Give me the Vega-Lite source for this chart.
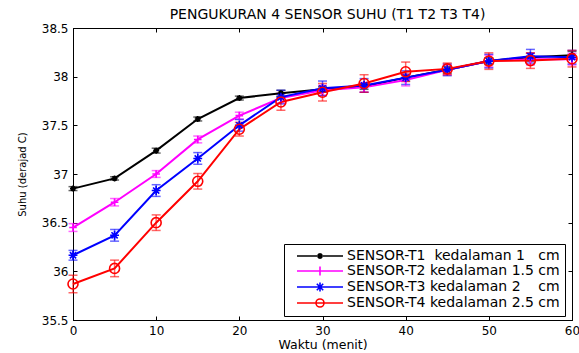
{
  "$schema": "https://vega.github.io/schema/vega-lite/v6.json",
  "width": 499,
  "height": 292,
  "autosize": "none",
  "padding": {"left": 73, "top": 28, "right": 7, "bottom": 33},
  "background": "white",
  "config": {
    "font": "DejaVu Sans",
    "view": {"stroke": "black", "strokeWidth": 1},
    "axis": {
      "grid": false,
      "domainColor": "black",
      "domainWidth": 1,
      "tickColor": "black",
      "tickSize": -4,
      "labelColor": "black",
      "labelFont": "DejaVu Sans",
      "labelFontSize": 12,
      "titleFont": "DejaVu Sans",
      "titleFontWeight": "normal",
      "titleColor": "black"
    }
  },
  "title": {
    "text": "PENGUKURAN 4 SENSOR SUHU (T1 T2 T3 T4)",
    "font": "DejaVu Sans",
    "fontSize": 14,
    "fontWeight": "normal",
    "color": "black",
    "offset": 0,
    "dx": 5
  },
  "data": {
    "values": [
      {"t": 0, "s": "T1", "v": 36.85, "e": 0.02},
      {"t": 5, "s": "T1", "v": 36.955, "e": 0.017},
      {"t": 10, "s": "T1", "v": 37.24, "e": 0.025},
      {"t": 15, "s": "T1", "v": 37.565, "e": 0.02},
      {"t": 20, "s": "T1", "v": 37.78, "e": 0.02},
      {"t": 25, "s": "T1", "v": 37.83, "e": 0.03},
      {"t": 30, "s": "T1", "v": 37.87, "e": 0.03},
      {"t": 35, "s": "T1", "v": 37.9, "e": 0.03},
      {"t": 40, "s": "T1", "v": 37.99, "e": 0.035},
      {"t": 45, "s": "T1", "v": 38.07, "e": 0.035},
      {"t": 50, "s": "T1", "v": 38.16, "e": 0.035},
      {"t": 55, "s": "T1", "v": 38.2, "e": 0.04},
      {"t": 60, "s": "T1", "v": 38.22, "e": 0.04},
      {"t": 0, "s": "T2", "v": 36.45, "e": 0.04},
      {"t": 5, "s": "T2", "v": 36.71, "e": 0.038},
      {"t": 10, "s": "T2", "v": 37.0, "e": 0.035},
      {"t": 15, "s": "T2", "v": 37.355, "e": 0.035},
      {"t": 20, "s": "T2", "v": 37.6, "e": 0.035},
      {"t": 25, "s": "T2", "v": 37.78, "e": 0.05},
      {"t": 30, "s": "T2", "v": 37.86, "e": 0.05},
      {"t": 35, "s": "T2", "v": 37.89, "e": 0.05},
      {"t": 40, "s": "T2", "v": 37.965, "e": 0.06},
      {"t": 45, "s": "T2", "v": 38.07, "e": 0.05},
      {"t": 50, "s": "T2", "v": 38.16, "e": 0.06},
      {"t": 55, "s": "T2", "v": 38.18, "e": 0.06},
      {"t": 60, "s": "T2", "v": 38.18, "e": 0.06},
      {"t": 0, "s": "T3", "v": 36.165, "e": 0.05},
      {"t": 5, "s": "T3", "v": 36.37, "e": 0.06},
      {"t": 10, "s": "T3", "v": 36.83, "e": 0.06},
      {"t": 15, "s": "T3", "v": 37.16, "e": 0.06},
      {"t": 20, "s": "T3", "v": 37.5, "e": 0.06},
      {"t": 25, "s": "T3", "v": 37.79, "e": 0.07},
      {"t": 30, "s": "T3", "v": 37.88, "e": 0.075},
      {"t": 35, "s": "T3", "v": 37.91, "e": 0.07},
      {"t": 40, "s": "T3", "v": 37.99, "e": 0.07},
      {"t": 45, "s": "T3", "v": 38.07, "e": 0.06},
      {"t": 50, "s": "T3", "v": 38.16, "e": 0.07},
      {"t": 55, "s": "T3", "v": 38.21, "e": 0.07},
      {"t": 60, "s": "T3", "v": 38.2, "e": 0.07},
      {"t": 0, "s": "T4", "v": 35.87, "e": 0.09},
      {"t": 5, "s": "T4", "v": 36.03, "e": 0.085},
      {"t": 10, "s": "T4", "v": 36.5, "e": 0.08},
      {"t": 15, "s": "T4", "v": 36.925, "e": 0.08},
      {"t": 20, "s": "T4", "v": 37.46, "e": 0.07},
      {"t": 25, "s": "T4", "v": 37.74, "e": 0.085},
      {"t": 30, "s": "T4", "v": 37.84, "e": 0.09},
      {"t": 35, "s": "T4", "v": 37.93, "e": 0.09},
      {"t": 40, "s": "T4", "v": 38.05, "e": 0.1},
      {"t": 45, "s": "T4", "v": 38.08, "e": 0.06},
      {"t": 50, "s": "T4", "v": 38.16, "e": 0.085},
      {"t": 55, "s": "T4", "v": 38.165, "e": 0.08},
      {"t": 60, "s": "T4", "v": 38.185, "e": 0.085}
    ]
  },
  "layer": [
    {
      "mark": {"type": "errorbar", "ticks": {"size": 9}, "thickness": 1.5, "opacity": 0.6},
      "encoding": {
        "x": {
          "field": "t", "type": "quantitative",
          "scale": {"domain": [0, 60], "nice": false, "zero": false},
          "axis": {"orient": "bottom", "values": [0, 10, 20, 30, 40, 50, 60], "labelPadding": 9, "title": "Waktu (menit)", "titleFontSize": 12.5, "titlePadding": 2, "labelFlush": false}
        },
        "y": {
          "field": "v", "type": "quantitative",
          "scale": {"domain": [35.5, 38.5], "nice": false, "zero": false},
          "axis": {"orient": "left", "values": [35.5, 36, 36.5, 37, 37.5, 38, 38.5], "format": "~g", "labelPadding": 9, "title": "Suhu (derajad C)", "titleFontSize": 10, "titlePadding": 14, "labelFlush": false}
        },
        "yError": {"field": "e"},
        "color": {
          "field": "s", "type": "nominal",
          "scale": {"domain": ["T1", "T2", "T3", "T4"], "range": ["#000000", "#ff00ff", "#0000ff", "#ff0000"]},
          "legend": null
        }
      }
    },
    {
      "mark": {"type": "line", "strokeWidth": 2},
      "encoding": {
        "x": {"field": "t", "type": "quantitative", "axis": null},
        "y": {"field": "v", "type": "quantitative", "axis": null},
        "color": {"field": "s", "type": "nominal", "legend": null}
      }
    },
    {
      "mark": {"type": "point", "filled": false, "strokeWidth": 1.6, "opacity": 1},
      "encoding": {
        "x": {"field": "t", "type": "quantitative", "axis": {"orient": "top", "values": [0, 10, 20, 30, 40, 50, 60], "labels": false, "title": null}},
        "y": {"field": "v", "type": "quantitative", "axis": {"orient": "right", "values": [35.5, 36, 36.5, 37, 37.5, 38, 38.5], "labels": false, "title": null}},
        "color": {"field": "s", "type": "nominal", "legend": null},
        "shape": {
          "field": "s", "type": "nominal",
          "scale": {"domain": ["T1", "T2", "T3", "T4"], "range": ["M-1,0L1,0M0,-1L0,1M-0.7,-0.7L0.7,0.7M-0.7,0.7L0.7,-0.7", "M-1,0L1,0M0,-1L0,1", "M-1,0L1,0M0,-1L0,1M-0.7,-0.7L0.7,0.7M-0.7,0.7L0.7,-0.7", "circle"]},
          "legend": null
        },
        "size": {
          "field": "s", "type": "nominal",
          "scale": {"domain": ["T1", "T2", "T3", "T4"], "range": [36, 100, 100, 81]},
          "legend": null
        }
      }
    },
    {
      "mark": {"type": "point", "filled": false, "opacity": 0, "size": 4},
      "encoding": {
        "x": {"field": "t", "type": "quantitative", "axis": null},
        "y": {"field": "v", "type": "quantitative", "axis": null},
        "color": {
          "field": "s", "type": "nominal",
          "legend": {
            "orient": "none",
            "legendX": 211,
            "legendY": 216,
            "title": null,
            "fillColor": "white",
            "strokeColor": "black",
            "padding": 5,
            "labelFont": "DejaVu Sans",
            "labelFontSize": 14,
            "labelColor": "black",
            "labelLimit": 400,
            "rowPadding": 0,
            "symbolSize": 4,
            "symbolOffset": 24,
            "symbolStrokeWidth": 1.6,
            "labelOffset": 20,
            "labelExpr": "datum.value === 'T1' ? 'SENSOR-T1\u00a0\u00a0kedalaman 1\u00a0\u00a0\u00a0cm' : datum.value === 'T2' ? 'SENSOR-T2 kedalaman 1.5 cm' : datum.value === 'T3' ? 'SENSOR-T3 kedalaman 2\u00a0\u00a0\u00a0\u00a0cm' : 'SENSOR-T4 kedalaman 2.5 cm'",
            "encode": {
              "symbols": {
                "update": {
                  "opacity": {"value": 1},
                  "fill": {"value": "transparent"},
                  "strokeWidth": {"value": 1.6}
                }
              }
            }
          }
        },
        "shape": {
          "field": "s", "type": "nominal",
          "scale": {"domain": ["T1", "T2", "T3", "T4"], "range": ["M-23,0L23,0M-3,0L3,0M0,-3L0,3M-2.1,-2.1L2.1,2.1M-2.1,2.1L2.1,-2.1", "M-23,0L23,0M0,-4.5L0,4.5", "M-23,0L23,0M0,-4.5L0,4.5M-3.2,-3.2L3.2,3.2M-3.2,3.2L3.2,-3.2", "M-23,0L23,0M4,0A4,4 0 1,1 -4,0A4,4 0 1,1 4,0"]},
          "legend": {}
        }
      }
    }
  ],
  "resolve": {
    "axis": {"x": "independent", "y": "independent"},
    "scale": {"shape": "independent"},
    "legend": {"color": "independent", "shape": "independent", "size": "independent"}
  }
}
